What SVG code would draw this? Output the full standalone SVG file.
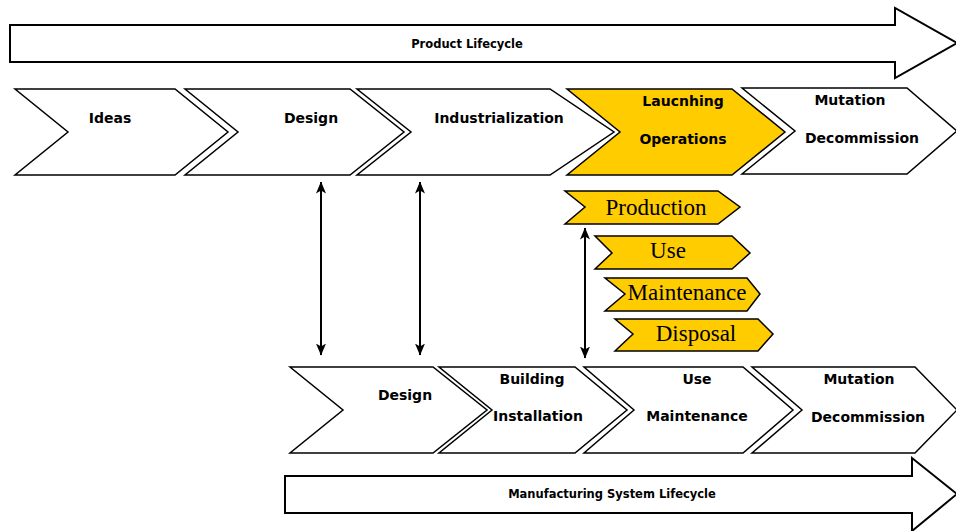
<svg xmlns="http://www.w3.org/2000/svg" width="956" height="531" viewBox="0 0 956 531">
<defs>
<marker id="ah" viewBox="0 0 12 10" refX="11.5" refY="5" markerWidth="12" markerHeight="10" markerUnits="userSpaceOnUse" orient="auto-start-reverse">
<path d="M0,0 L12,5 L0,10 L3,5 Z" fill="#000"/>
</marker>
<style>
.ch{fill:#fff;stroke:#000;stroke-width:1.5;stroke-linejoin:miter}
.y{fill:#FFCC00}
.big{fill:#fff;stroke:#000;stroke-width:2}
.lb{font-family:"DejaVu Sans","Verdana",sans-serif;font-weight:bold;font-size:14px;text-anchor:middle;fill:#000}
.sm{font-family:"DejaVu Sans","Verdana",sans-serif;font-weight:bold;font-size:11.5px;text-anchor:middle;fill:#000}
.sf{font-family:"Liberation Serif","Times New Roman",serif;font-size:23px;text-anchor:middle;fill:#000}
.cn{stroke:#000;stroke-width:2;fill:none}
</style>
</defs>
<rect width="956" height="531" fill="#fff"/>

<g id="product-lifecycle">
<path class="big" d="M10,25 L895,25 L895,8 L957,43 L895,78 L895,62 L10,62 Z"/>
<text class="sm" x="467" y="48">Product Lifecycle</text>
</g>

<g id="p-ideas">
<path class="ch" d="M15,89 L175,89 L228,132 L175,175 L15,175 L68,132 Z"/>
<text class="lb" x="110" y="123">Ideas</text>
</g>
<g id="p-design">
<path class="ch" d="M185,89 L350,89 L404,132 L350,175 L185,175 L238,132 Z"/>
<text class="lb" x="311" y="123">Design</text>
</g>
<g id="p-industrialization">
<path class="ch" d="M357,89 L550,89 L614,132 L550,175 L357,175 L411,132 Z"/>
<text class="lb" x="499" y="123">Industrialization</text>
</g>
<g id="p-launching">
<path class="ch y" d="M567,89 L732,89 L785,132 L732,175 L567,175 L620,132 Z"/>
<text class="lb" x="683" y="106">Laucnhing</text>
<text class="lb" x="683" y="144">Operations</text>
</g>
<g id="p-mutation">
<path class="ch" d="M742,88 L907,88 L957,131 L907,174 L742,174 L795,131 Z"/>
<text class="lb" x="850" y="105">Mutation</text>
<text class="lb" x="862" y="143">Decommission</text>
</g>

<g id="s-production">
<path class="ch y" d="M565,191 L718,191 L740,207 L718,224 L565,224 L585,207 Z"/>
<text class="sf" x="656" y="215">Production</text>
</g>
<g id="s-use">
<path class="ch y" d="M595,236 L732,236 L750,253 L732,269 L595,269 L612,253 Z"/>
<text class="sf" x="668" y="258">Use</text>
</g>
<g id="s-maintenance">
<path class="ch y" d="M605,278 L747,278 L760,294 L747,311 L605,311 L625,294 Z"/>
<text class="sf" x="687" y="300">Maintenance</text>
</g>
<g id="s-disposal">
<path class="ch y" d="M615,319 L758,319 L773,334 L758,351 L615,351 L633,334 Z"/>
<text class="sf" x="696" y="341">Disposal</text>
</g>

<g id="m-design">
<path class="ch" d="M290,367 L433,367 L487,410 L433,453 L290,453 L343,410 Z"/>
<text class="lb" x="405" y="400">Design</text>
</g>
<g id="m-building">
<path class="ch" d="M439,367 L575,367 L627,410 L575,453 L439,453 L492,410 Z"/>
<text class="lb" x="532" y="384">Building</text>
<text class="lb" x="538" y="421">Installation</text>
</g>
<g id="m-use">
<path class="ch" d="M584,367 L743,367 L793,410 L743,453 L584,453 L634,410 Z"/>
<text class="lb" x="697" y="384">Use</text>
<text class="lb" x="697" y="421">Maintenance</text>
</g>
<g id="m-mutation">
<path class="ch" d="M752,367 L915,367 L957,410 L915,453 L752,453 L802,410 Z"/>
<text class="lb" x="859" y="384">Mutation</text>
<text class="lb" x="868" y="422">Decommission</text>
</g>

<g id="manufacturing-lifecycle">
<path class="big" d="M285,476 L912,476 L912,458 L957,494 L912,531 L912,513 L285,513 Z"/>
<text class="sm" x="612" y="498">Manufacturing System Lifecycle</text>
</g>

<g id="connectors">
<line class="cn" x1="321" y1="182" x2="321" y2="355" marker-start="url(#ah)" marker-end="url(#ah)"/>
<line class="cn" x1="420" y1="182" x2="420" y2="355" marker-start="url(#ah)" marker-end="url(#ah)"/>
<line class="cn" x1="585" y1="228" x2="585" y2="358" marker-start="url(#ah)" marker-end="url(#ah)"/>
</g>
</svg>
